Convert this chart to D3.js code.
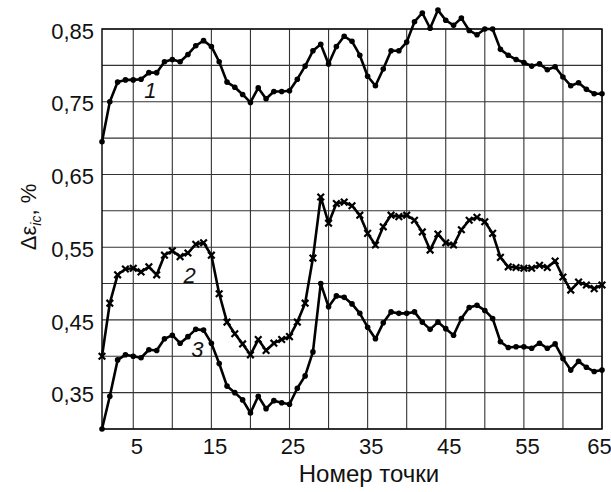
<!DOCTYPE html>
<html>
<head>
<meta charset="utf-8">
<script src="https://cdn.jsdelivr.net/npm/d3@7"></script>
<style>
  body { margin: 0; background: #fff; }
  svg { display: block; font-family: "Liberation Sans", Arial, sans-serif; }
</style>
</head>
<body>
<div id="chart"></div>
<script>
// номер точки 1..65
const points = d3.range(1, 66);

const curve1 = [
  0.695, 0.750, 0.777, 0.780, 0.780, 0.781, 0.790, 0.790, 0.805, 0.808,
  0.805, 0.815, 0.827, 0.834, 0.826, 0.805, 0.777, 0.770, 0.760, 0.749,
  0.769, 0.754, 0.764, 0.764, 0.765, 0.781, 0.799, 0.820, 0.829, 0.802,
  0.826, 0.840, 0.833, 0.814, 0.785, 0.772, 0.795, 0.820, 0.820, 0.832,
  0.860, 0.872, 0.851, 0.876, 0.862, 0.855, 0.865, 0.848, 0.842, 0.850,
  0.850, 0.822, 0.814, 0.808, 0.804, 0.799, 0.802, 0.794, 0.798, 0.784,
  0.772, 0.776, 0.767, 0.761, 0.761
];

const curve2 = [
  0.400, 0.473, 0.512, 0.520, 0.521, 0.516, 0.523, 0.512, 0.539, 0.545,
  0.537, 0.542, 0.554, 0.556, 0.539, 0.486, 0.447, 0.431, 0.417, 0.402,
  0.423, 0.408, 0.418, 0.423, 0.427, 0.447, 0.473, 0.535, 0.619, 0.583,
  0.610, 0.612, 0.607, 0.594, 0.569, 0.553, 0.578, 0.594, 0.592, 0.594,
  0.587, 0.571, 0.546, 0.568, 0.556, 0.553, 0.574, 0.587, 0.591, 0.585,
  0.569, 0.536, 0.523, 0.522, 0.521, 0.521, 0.525, 0.522, 0.531, 0.509,
  0.491, 0.502, 0.498, 0.493, 0.498
];

const curve3 = [
  0.300, 0.345, 0.395, 0.402, 0.400, 0.398, 0.409, 0.408, 0.424, 0.429,
  0.418, 0.427, 0.437, 0.436, 0.418, 0.390, 0.359, 0.350, 0.340, 0.322,
  0.345, 0.328, 0.339, 0.336, 0.334, 0.356, 0.373, 0.406, 0.500, 0.468,
  0.483, 0.481, 0.472, 0.459, 0.440, 0.424, 0.446, 0.461, 0.459, 0.459,
  0.461, 0.447, 0.437, 0.447, 0.438, 0.429, 0.452, 0.467, 0.470, 0.463,
  0.452, 0.420, 0.412, 0.413, 0.413, 0.411, 0.418, 0.411, 0.417, 0.397,
  0.381, 0.393, 0.385, 0.379, 0.381
];

const xTickLabels = [5, 15, 25, 35, 45, 55, 65];
const xGrid = d3.range(5, 66, 5);
const yTickLabels = [0.35, 0.45, 0.55, 0.65, 0.75, 0.85];
const yGrid = d3.range(0.30, 0.851, 0.05);

// подписи кривых: номер, x, y
const curveNames = ["1", "2", "3"];
const nameX = [7.2, 12.2, 13.2];
const nameY = [0.766, 0.512, 0.41];

const width = 611, height = 492;
const margin = { top: 29, right: 9, bottom: 63, left: 102 };
const w = width - margin.left - margin.right;
const h = height - margin.top - margin.bottom;

const svg = d3.select("#chart").append("svg")
  .attr("width", width)
  .attr("height", height);

const g = svg.append("g")
  .attr("transform", `translate(${margin.left},${margin.top})`);

const x = d3.scaleLinear().domain([1, 65]).range([0, w]);
const y = d3.scaleLinear().domain([0.30, 0.85]).range([h, 0]);

// сетка
g.append("g")
  .selectAll("line.vg")
  .data(xGrid)
  .join("line")
  .attr("x1", d => x(d)).attr("x2", d => x(d))
  .attr("y1", 0).attr("y2", h)
  .attr("stroke", "#333").attr("stroke-width", 1.1);

g.append("g")
  .selectAll("line.hg")
  .data(yGrid)
  .join("line")
  .attr("x1", 0).attr("x2", w)
  .attr("y1", d => y(d)).attr("y2", d => y(d))
  .attr("stroke", "#333").attr("stroke-width", 1.1);

g.append("rect")
  .attr("width", w).attr("height", h)
  .attr("fill", "none").attr("stroke", "#111").attr("stroke-width", 1.5);

// оси
const fmt = d => d.toFixed(2).replace(".", ",");

const yAxis = g.append("g")
  .call(d3.axisLeft(y).tickValues(yTickLabels).tickSize(0).tickPadding(8).tickFormat(fmt));
yAxis.select(".domain").remove();
yAxis.selectAll("text")
  .attr("font-size", 22)
  .attr("font-family", "Liberation Sans, Arial, sans-serif")
  .attr("fill", "#111")
  .attr("dy", "0.42em");

const xAxis = g.append("g")
  .attr("transform", `translate(0,${h})`)
  .call(d3.axisBottom(x).tickValues(xTickLabels).tickSize(0).tickPadding(9).tickFormat(d3.format("d")));
xAxis.select(".domain").remove();
xAxis.selectAll("text")
  .attr("font-size", 22)
  .attr("font-family", "Liberation Sans, Arial, sans-serif")
  .attr("fill", "#111")
  .attr("dx", d => d === 65 ? -3 : 3);

svg.append("text")
  .attr("x", 369).attr("y", 482)
  .attr("text-anchor", "middle")
  .attr("font-size", 24)
  .attr("fill", "#111")
  .text("Номер точки");

const yTitle = svg.append("text")
  .attr("transform", "translate(36,217) rotate(-90)")
  .attr("text-anchor", "middle")
  .attr("font-size", 22)
  .attr("fill", "#111");
yTitle.append("tspan").text("Δε");
yTitle.append("tspan").attr("font-size", 14).attr("font-style", "italic").attr("dy", 5).text("ic");
yTitle.append("tspan").attr("dy", -5).text(", %");

// кривые
const line = d3.line()
  .x((d, i) => x(points[i]))
  .y(d => y(d));

[curve1, curve2, curve3].forEach((vals, k) => {
  g.append("path")
    .datum(vals)
    .attr("fill", "none")
    .attr("stroke", "#000")
    .attr("stroke-width", 2.6)
    .attr("stroke-linejoin", "round")
    .attr("d", line);

  if (k === 1) {
    g.selectAll(null)
      .data(vals)
      .join("path")
      .attr("transform", (d, i) => `translate(${x(points[i])},${y(d)})`)
      .attr("d", d3.symbol(d3.symbolTimes, 30))
      .attr("fill", "none")
      .attr("stroke", "#000")
      .attr("stroke-width", 2.2);
  } else {
    g.selectAll(null)
      .data(vals)
      .join("circle")
      .attr("cx", (d, i) => x(points[i]))
      .attr("cy", d => y(d))
      .attr("r", 2.8)
      .attr("fill", "#000");
  }
});

// номера кривых
g.selectAll("text.name")
  .data(curveNames)
  .join("text")
  .attr("x", (d, i) => x(nameX[i]))
  .attr("y", (d, i) => y(nameY[i]))
  .attr("text-anchor", "middle")
  .attr("dy", "0.35em")
  .attr("font-size", 22)
  .attr("font-style", "italic")
  .attr("fill", "#111")
  .text(d => d);
</script>
</body>
</html>
